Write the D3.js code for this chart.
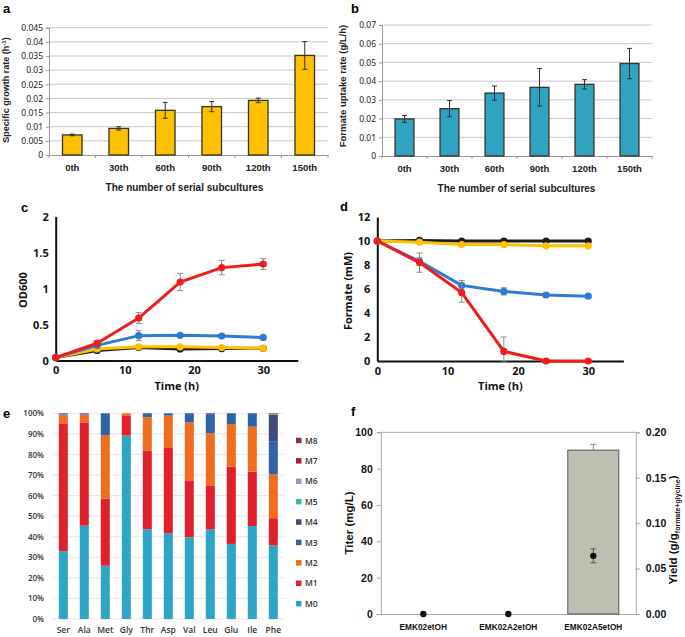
<!DOCTYPE html>
<html>
<head>
<meta charset="utf-8">
<script src="https://cdn.jsdelivr.net/npm/d3@7"></script>
<style>
  body { margin: 0; background: #fff; }
  svg { display: block; }
</style>
</head>
<body>
<div id="container"></div>
<script>
/* DATA */
// a, b: serial subcultures
const subcultures = ["0th", "30th", "60th", "90th", "120th", "150th"];
const growthRate = [0.0071, 0.0094, 0.0158, 0.0171, 0.0193, 0.0352];
const growthErr = [0.0003, 0.0006, 0.0028, 0.0018, 0.0008, 0.0049];
const growthTicks = [0, 0.005, 0.01, 0.015, 0.02, 0.025, 0.03, 0.035, 0.04, 0.045];
const uptakeRate = [0.0198, 0.0253, 0.0336, 0.0367, 0.0383, 0.0494];
const uptakeErr = [0.0018, 0.0043, 0.0038, 0.0100, 0.0025, 0.0081];
const uptakeTicks = [0, 0.01, 0.02, 0.03, 0.04, 0.05, 0.06, 0.07];

// c, d: time courses
const hours = [0, 6, 12, 18, 24, 30];
const timeTicks = [0, 10, 20, 30];
const odBlack = [0.04, 0.14, 0.18, 0.16, 0.165, 0.17];
const odYellow = [0.04, 0.16, 0.19, 0.19, 0.18, 0.17];
const odBlue = [0.04, 0.21, 0.345, 0.35, 0.34, 0.32];
const odBlueErr = [0, 0.02, 0.07, 0.02, 0.02, 0.02];
const odRed = [0.04, 0.24, 0.59, 1.09, 1.29, 1.34];
const odRedErr = [0, 0.03, 0.075, 0.12, 0.1, 0.075];
const odTicks = [0, 0.5, 1, 1.5, 2];
const fmBlack = [10, 10.05, 10, 10, 10, 10];
const fmYellow = [10, 9.9, 9.7, 9.7, 9.6, 9.6];
const fmBlue = [10, 8.3, 6.3, 5.8, 5.5, 5.4];
const fmBlueErr = [0, 0.3, 0.4, 0.3, 0.2, 0.15];
const fmRed = [10, 8.2, 5.7, 0.8, 0, 0];
const fmRedErr = [0, 0.8, 0.8, 1.2, 0, 0];
const fmTicks = [0, 2, 4, 6, 8, 10, 12];

// e: labelling pattern (%)
const aminoAcids = ["Ser", "Ala", "Met", "Gly", "Thr", "Asp", "Val", "Leu", "Glu", "Ile", "Phe"];
const isotopologues = ["M0", "M1", "M2", "M3", "M4", "M5", "M6", "M7", "M8"];
const m0 = [33.0, 45.4, 25.9, 89.2, 43.6, 41.7, 39.7, 43.6, 36.5, 45.2, 35.8];
const m1 = [62.1, 50.2, 32.6, 9.5, 38.1, 41.8, 27.7, 21.4, 37.5, 26.4, 13.2];
const m2 = [4.3, 3.8, 30.9, 1.3, 16.4, 15.4, 28.2, 25.3, 20.8, 21.9, 21.3];
const m3 = [0.6, 0.6, 10.6, 0, 1.9, 1.1, 4.4, 9.0, 5.2, 6.5, 15.9];
const m4 = [0, 0, 0, 0, 0, 0, 0, 0.7, 0, 0, 13.0];
const m5 = [0, 0, 0, 0, 0, 0, 0, 0, 0, 0, 0.1];
const m6 = [0, 0, 0, 0, 0, 0, 0, 0, 0, 0, 0.2];
const m7 = [0, 0, 0, 0, 0, 0, 0, 0, 0, 0, 0.2];
const m8 = [0, 0, 0, 0, 0, 0, 0, 0, 0, 0, 0.3];
const pctTicks = [0, 10, 20, 30, 40, 50, 60, 70, 80, 90, 100];

// f: ethanol production
const strains = ["EMK02etOH", "EMK02A2etOH", "EMK02A5etOH"];
const titer = [0, 0, 90.2];
const titerErr = [0, 0, 3.2];
const yieldVals = [0, 0, 0.064];
const yieldErr = [0, 0, 0.0077];
const titerTicks = [0, 20, 40, 60, 80, 100];
const yieldTicks = [0, 0.05, 0.10, 0.15, 0.20];

/* SVG */
const width = 685, height = 637;
const svg = d3.select("#container").append("svg")
  .attr("width", width).attr("height", height);

const label = (x, y, t) => svg.append("text").attr("x", x).attr("y", y).text(t)
  .attr("font-family", "Liberation Sans, Arial").attr("font-weight", "bold").attr("font-size", 13);
label(3, 13, "a"); label(351, 13, "b"); label(21, 212, "c");
label(340, 211, "d"); label(3, 418, "e"); label(351, 416, "f");

/* a & b: bar charts */
function barPanel(cfg) {
  const g = svg.append("g");
  const x = d3.scaleBand().domain(subcultures).range([cfg.x0, cfg.x1])
    .paddingInner(0.58).paddingOuter(0.29);
  const y = d3.scaleLinear().domain([0, cfg.ticks[cfg.ticks.length - 1]]).range([cfg.y0, cfg.y1]);
  const font = "Noto Sans, Open Sans, sans-serif";
  const boldFont = "Liberation Sans, Arial, sans-serif";

  // gridlines
  g.selectAll("line.grid").data(cfg.ticks.slice(1)).join("line")
    .attr("x1", cfg.x0).attr("x2", cfg.x1)
    .attr("y1", d => y(d)).attr("y2", d => y(d))
    .attr("stroke", "#c8c8c8").attr("stroke-width", 1);

  // y axis
  const yAxis = g.append("g").attr("transform", `translate(${cfg.x0},0)`)
    .call(d3.axisLeft(y).tickValues(cfg.ticks).tickSize(3).tickPadding(3)
      .tickFormat(d => String(+d.toFixed(3))));
  yAxis.select(".domain").attr("stroke", "#9a9a9a");
  yAxis.selectAll(".tick line").attr("stroke", "#9a9a9a");
  yAxis.selectAll("text").attr("font-family", font).attr("font-size", 8.5).attr("fill", "#222");

  // x axis with ticks at category boundaries
  const xAxis = g.append("g").attr("transform", `translate(0,${cfg.y0})`)
    .call(d3.axisBottom(x).tickSize(0).tickPadding(9));
  xAxis.select(".domain").attr("stroke", "#9a9a9a");
  xAxis.selectAll("text").attr("font-family", boldFont).attr("font-weight", "bold")
    .attr("font-size", 9.5).attr("fill", "#222");
  g.selectAll("line.bound").data(d3.range(subcultures.length + 1)).join("line")
    .attr("x1", i => cfg.x0 + i * x.step()).attr("x2", i => cfg.x0 + i * x.step())
    .attr("y1", cfg.y0).attr("y2", cfg.y0 + 3).attr("stroke", "#9a9a9a");

  // bars
  g.selectAll("rect.bar").data(cfg.values).join("rect")
    .attr("x", (d, i) => x(subcultures[i])).attr("width", x.bandwidth())
    .attr("y", d => y(d)).attr("height", d => cfg.y0 - y(d))
    .attr("fill", cfg.color).attr("stroke", "#34342a").attr("stroke-width", 1.3);

  // error bars
  const cx = i => x(subcultures[i]) + x.bandwidth() / 2;
  const eg = g.append("g").attr("stroke", "#333").attr("stroke-width", 1);
  cfg.values.forEach((v, i) => {
    const e = cfg.err[i];
    eg.append("line").attr("x1", cx(i)).attr("x2", cx(i)).attr("y1", y(v - e)).attr("y2", y(v + e));
    eg.append("line").attr("x1", cx(i) - 2.5).attr("x2", cx(i) + 2.5).attr("y1", y(v - e)).attr("y2", y(v - e));
    eg.append("line").attr("x1", cx(i) - 2.5).attr("x2", cx(i) + 2.5).attr("y1", y(v + e)).attr("y2", y(v + e));
  });

  g.append("text").attr("x", (cfg.x0 + cfg.x1) / 2 + cfg.titleShift).attr("y", cfg.y0 + 36)
    .attr("text-anchor", "middle").attr("font-family", boldFont).attr("font-weight", "bold")
    .attr("font-size", 10).attr("fill", "#222").text("The number of serial subcultures");

  const yt = g.append("text").attr("transform", `translate(${cfg.ytX},${cfg.ytY}) rotate(-90)`)
    .attr("text-anchor", "middle").attr("font-family", boldFont).attr("font-weight", "bold")
    .attr("font-size", cfg.ytSize).attr("fill", "#222");
  cfg.ytitle(yt);
}

barPanel({
  x0: 49, x1: 328, y0: 155, y1: 27.7, ticks: growthTicks, values: growthRate, err: growthErr,
  color: "#FFC000", titleShift: -4, ytX: 9, ytY: 90, ytSize: 9,
  ytitle: t => {
    t.append("tspan").text("Specific growth rate (h");
    t.append("tspan").attr("font-size", 6).attr("dy", -3).text("-1");
    t.append("tspan").attr("dy", 3).text(")");
  }
});
barPanel({
  x0: 382, x1: 652, y0: 156, y1: 25, ticks: uptakeTicks, values: uptakeRate, err: uptakeErr,
  color: "#2FA3C0", titleShift: -0.5, ytX: 346, ytY: 86, ytSize: 9.5,
  ytitle: t => t.text("Formate uptake rate (g/L/h)")
});

/* c & d: time courses */
function linePanel(cfg) {
  const g = svg.append("g");
  const font = "Open Sans, Noto Sans, sans-serif";
  const x = d3.scaleLinear().domain([0, 35]).range([cfg.x0, cfg.x1]);
  const y = d3.scaleLinear().domain([0, cfg.ticks[cfg.ticks.length - 1]]).range([cfg.y0, cfg.y1]);

  const yAxis = g.append("g").attr("transform", `translate(${cfg.x0},0)`)
    .call(d3.axisLeft(y).tickValues(cfg.ticks).tickSize(0).tickPadding(7).tickFormat(d => String(d)));
  const xAxis = g.append("g").attr("transform", `translate(0,${cfg.y0})`)
    .call(d3.axisBottom(x).tickValues(timeTicks).tickSize(0).tickPadding(6));
  [yAxis, xAxis].forEach(a => {
    a.select(".domain").attr("stroke", "#111").attr("stroke-width", 2);
    a.selectAll("text").attr("font-family", font).attr("font-weight", "bold")
      .attr("font-size", 11).attr("fill", "#111");
  });

  const line = d3.line().x((d, i) => x(hours[i])).y(d => y(d));
  cfg.series.forEach(s => {
    // error bars
    if (s.err) {
      s.values.forEach((v, i) => {
        const e = s.err[i];
        if (!e) return;
        const lo = y(Math.max(0, v - e)), hi = y(v + e), px = x(hours[i]);
        const eg = g.append("g").attr("stroke", "#8a8a8a").attr("stroke-width", 1);
        eg.append("line").attr("x1", px).attr("x2", px).attr("y1", lo).attr("y2", hi);
        eg.append("line").attr("x1", px - 3).attr("x2", px + 3).attr("y1", lo).attr("y2", lo);
        eg.append("line").attr("x1", px - 3).attr("x2", px + 3).attr("y1", hi).attr("y2", hi);
      });
    }
    g.append("path").datum(s.values).attr("d", line)
      .attr("fill", "none").attr("stroke", s.color).attr("stroke-width", 3);
    g.selectAll(null).data(s.values).join("circle")
      .attr("cx", (d, i) => x(hours[i])).attr("cy", d => y(d)).attr("r", 3.6)
      .attr("fill", s.color);
  });

  g.append("text").attr("x", x(17.5)).attr("y", cfg.y0 + 29).attr("text-anchor", "middle")
    .attr("font-family", font).attr("font-weight", "bold").attr("font-size", 11)
    .attr("fill", "#111").text("Time (h)");
  g.append("text").attr("transform", `translate(${cfg.ytX},${cfg.ytY}) rotate(-90)`)
    .attr("text-anchor", "middle").attr("font-family", font).attr("font-weight", "bold")
    .attr("font-size", 11).attr("fill", "#111").text(cfg.ytitle);
}

linePanel({
  x0: 55.7, x1: 297.8, y0: 360.5, y1: 216.5, ticks: odTicks, ytX: 27, ytY: 290, ytitle: "OD600",
  series: [
    { color: "#1a1a1a", values: odBlack },
    { color: "#FFC000", values: odYellow },
    { color: "#2E7BCF", values: odBlue, err: odBlueErr },
    { color: "#F21B1B", values: odRed, err: odRedErr }
  ]
});
linePanel({
  x0: 377.3, x1: 623.4, y0: 361, y1: 217, ticks: fmTicks, ytX: 352, ytY: 291, ytitle: "Formate (mM)",
  series: [
    { color: "#1a1a1a", values: fmBlack },
    { color: "#FFC000", values: fmYellow },
    { color: "#2E7BCF", values: fmBlue, err: fmBlueErr },
    { color: "#F21B1B", values: fmRed, err: fmRedErr }
  ]
});

/* e: stacked isotopologue distribution */
(function () {
  const g = svg.append("g");
  const font = "Open Sans, Noto Sans, sans-serif";
  const colors = ["#2EA5C3", "#E2202B", "#F06D1F", "#3062A8", "#414A7E", "#35B9A8", "#8E9DC6", "#A3222C", "#7D2F5E"];
  const fractions = [m0, m1, m2, m3, m4, m5, m6, m7, m8];
  const rows = aminoAcids.map((aa, i) => {
    const r = { aa };
    isotopologues.forEach((k, j) => r[k] = fractions[j][i]);
    return r;
  });
  const stacked = d3.stack().keys(isotopologues)(rows);
  const x = d3.scaleBand().domain(aminoAcids).range([52.8, 283.8]).paddingInner(0.57).paddingOuter(0.285);
  const y = d3.scaleLinear().domain([0, 100]).range([619, 413.3]);

  g.selectAll("line.grid").data(pctTicks).join("line")
    .attr("x1", 52.8).attr("x2", 283.8).attr("y1", d => y(d)).attr("y2", d => y(d))
    .attr("stroke", "#e6e6ef").attr("stroke-width", 1);

  const yAxis = g.append("g").attr("transform", "translate(47,0)")
    .call(d3.axisLeft(y).tickValues(pctTicks).tickSize(0).tickPadding(3).tickFormat(d => d + "%"));
  yAxis.select(".domain").remove();
  yAxis.selectAll("text").attr("font-family", font).attr("font-weight", 600)
    .attr("font-size", 8).attr("fill", "#333");

  const xAxis = g.append("g").attr("transform", "translate(0,619)")
    .call(d3.axisBottom(x).tickSize(0).tickPadding(8));
  xAxis.select(".domain").remove();
  xAxis.selectAll("text").attr("font-family", font).attr("font-weight", 600)
    .attr("font-size", 8.5).attr("fill", "#333");

  g.selectAll("g.layer").data(stacked).join("g")
    .attr("fill", (d, i) => colors[i])
    .selectAll("rect").data(d => d).join("rect")
    .attr("x", d => x(d.data.aa)).attr("width", x.bandwidth())
    .attr("y", d => y(d[1])).attr("height", d => y(d[0]) - y(d[1]));

  // legend (M8 on top)
  const leg = g.selectAll("g.leg").data(isotopologues.slice().reverse()).join("g")
    .attr("transform", (d, i) => `translate(296,${440.7 + i * 20.4})`);
  leg.append("rect").attr("x", 0).attr("y", -3).attr("width", 5.5).attr("height", 5.5)
    .attr("fill", d => colors[isotopologues.indexOf(d)]);
  leg.append("text").attr("x", 9).attr("y", 0).attr("dy", "0.35em").text(d => d)
    .attr("font-family", font).attr("font-weight", 600).attr("font-size", 8.5).attr("fill", "#333");
})();

/* f: titer and yield */
(function () {
  const g = svg.append("g");
  const font = "Liberation Sans, Arial, sans-serif";
  const x = d3.scaleBand().domain(strains).range([380.8, 635.8]).paddingInner(0.4).paddingOuter(0.2);
  const yL = d3.scaleLinear().domain([0, 100]).range([614, 432.3]);
  const yR = d3.scaleLinear().domain([0, 0.2]).range([614, 432.3]);
  const axisColor = "#a8a8a8";

  g.append("line").attr("x1", 380.8).attr("x2", 635.8).attr("y1", yL(100)).attr("y2", yL(100))
    .attr("stroke", axisColor);
  const left = g.append("g").attr("transform", "translate(380.8,0)")
    .call(d3.axisLeft(yL).tickValues(titerTicks).tickSize(4).tickPadding(4));
  const right = g.append("g").attr("transform", "translate(635.8,0)")
    .call(d3.axisRight(yR).tickValues(yieldTicks).tickSize(4).tickPadding(6).tickFormat(d3.format(".2f")));
  const bottom = g.append("g").attr("transform", "translate(0,614)")
    .call(d3.axisBottom(x).tickSize(0).tickPadding(10));
  [left, right, bottom].forEach(a => {
    a.select(".domain").attr("stroke", axisColor);
    a.selectAll(".tick line").attr("stroke", axisColor);
    a.selectAll("text").attr("font-family", font).attr("font-weight", "bold")
      .attr("font-size", 10.5).attr("fill", "#111");
  });
  bottom.selectAll("text").attr("font-size", 8.3);

  const cx = s => x(s) + x.bandwidth() / 2;
  // titer error (drawn behind bar)
  strains.forEach((s, i) => {
    if (!titerErr[i]) return;
    const eg = g.append("g").attr("stroke", "#888").attr("stroke-width", 1);
    eg.append("line").attr("x1", cx(s)).attr("x2", cx(s)).attr("y1", yL(titer[i] - titerErr[i])).attr("y2", yL(titer[i] + titerErr[i]));
    eg.append("line").attr("x1", cx(s) - 3).attr("x2", cx(s) + 3).attr("y1", yL(titer[i] + titerErr[i])).attr("y2", yL(titer[i] + titerErr[i]));
  });
  g.selectAll("rect.bar").data(titer).join("rect")
    .attr("x", (d, i) => x(strains[i])).attr("width", x.bandwidth())
    .attr("y", d => yL(d)).attr("height", d => 614 - yL(d))
    .attr("fill", "#BEBFB1").attr("stroke", "#555").attr("stroke-width", 1)
    .attr("display", d => d > 0 ? null : "none");

  // yield points
  strains.forEach((s, i) => {
    if (!yieldErr[i]) return;
    const eg = g.append("g").attr("stroke", "#555").attr("stroke-width", 1);
    const lo = yR(yieldVals[i] - yieldErr[i]), hi = yR(yieldVals[i] + yieldErr[i]);
    eg.append("line").attr("x1", cx(s)).attr("x2", cx(s)).attr("y1", lo).attr("y2", hi);
    eg.append("line").attr("x1", cx(s) - 3).attr("x2", cx(s) + 3).attr("y1", lo).attr("y2", lo);
    eg.append("line").attr("x1", cx(s) - 3).attr("x2", cx(s) + 3).attr("y1", hi).attr("y2", hi);
  });
  g.selectAll("circle.pt").data(yieldVals).join("circle")
    .attr("cx", (d, i) => cx(strains[i])).attr("cy", d => yR(d)).attr("r", 3.2).attr("fill", "#111");

  g.append("text").attr("transform", "translate(353,523) rotate(-90)").attr("text-anchor", "middle")
    .attr("font-family", font).attr("font-weight", "bold").attr("font-size", 11.5).attr("fill", "#111")
    .text("Titer (mg/L)");
  const rt = g.append("text").attr("transform", "translate(677,530) rotate(-90)").attr("text-anchor", "middle")
    .attr("font-family", font).attr("font-weight", "bold").attr("font-size", 11.5).attr("fill", "#111");
  rt.append("tspan").text("Yield (g/g");
  rt.append("tspan").attr("font-size", 7).attr("dy", 3).text("formate+glycine");
  rt.append("tspan").attr("dy", -3).text(")");
})();
</script>
</body>
</html>
